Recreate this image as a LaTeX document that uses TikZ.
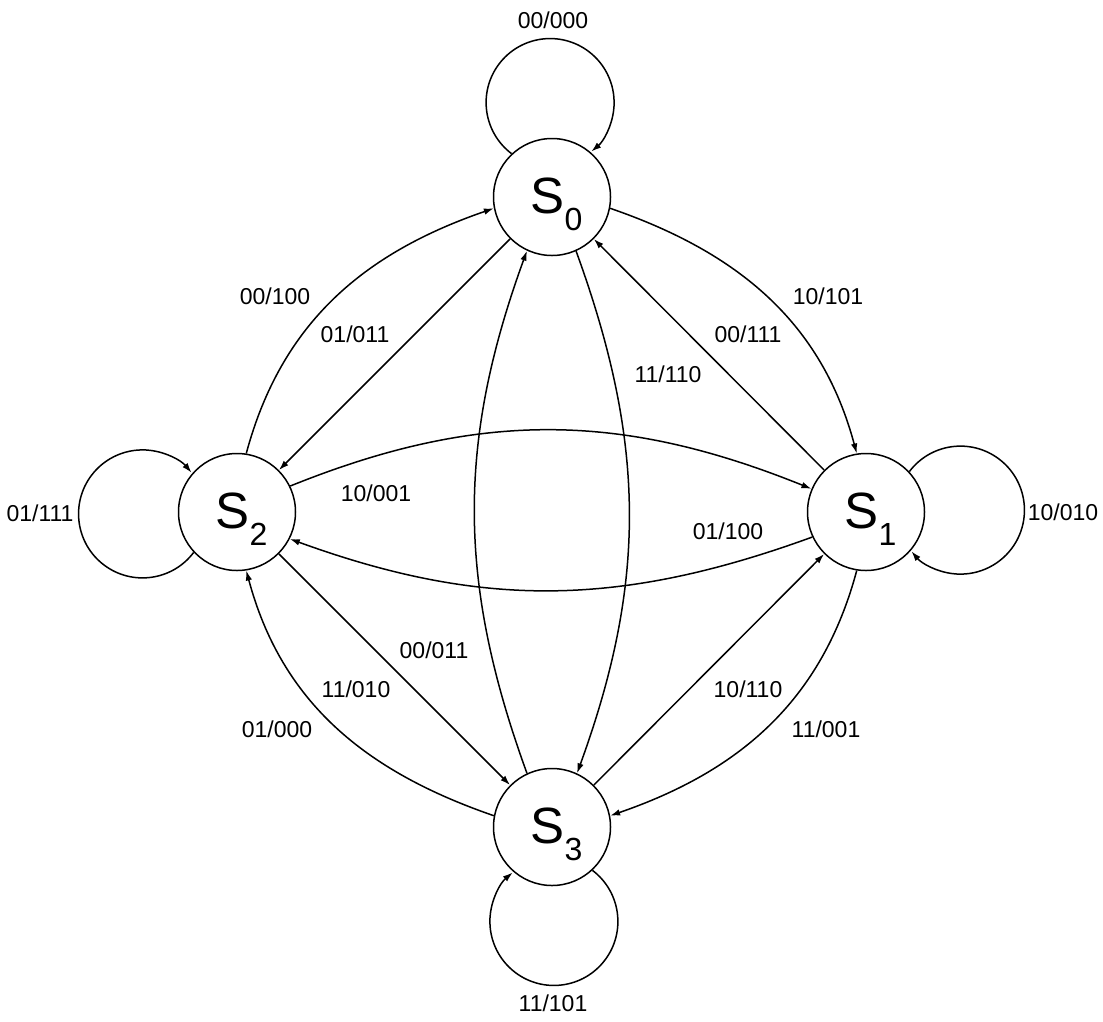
\documentclass[tikz,border=0pt]{standalone}
\usepackage{fontspec}
\setmainfont{Liberation Sans}
\usetikzlibrary{arrows.meta}
\newcommand\stname[1]{S\raisebox{-17pt}[0pt][0pt]{\makebox[9pt][l]{\fontsize{32}{32}\selectfont #1}}}
\begin{document}
\begin{tikzpicture}[x=1pt,y=1pt,
  state/.style={draw, circle, minimum size=117pt, inner sep=0pt, line width=1.5pt,
    font=\fontsize{51}{51}\selectfont, text height=35pt, text depth=3pt},
  edge/.style={line width=1.5pt, -{Latex[length=10pt,width=6.5pt]}},
  lbl/.style={font=\fontsize{23}{23}\selectfont, inner sep=0pt}]
\useasboundingbox (0,0) rectangle (1103,-1021);

\node[state] (s0) at (552,-197) {\stname{0}};
\node[state] (s1) at (866,-512) {\stname{1}};
\node[state] (s2) at (237,-512) {\stname{2}};
\node[state] (s3) at (552,-827) {\stname{3}};

% self loops
\draw[edge] (s0.133) arc[start angle=233, end angle=-50, radius=64pt];
\draw[edge] (s1.43) arc[start angle=143, end angle=-140, radius=64pt];
\draw[edge] (s3.-47) arc[start angle=53, end angle=-230, radius=64pt];
\draw[edge] (s2.223) arc[start angle=323, end angle=40, radius=64pt];

% transitions
\draw[edge] (s2.81) to[out=75,in=199] (s0.191);
\draw[edge] (s0) -- (s2);
\draw[edge] (s0.-11) to[out=-19,in=105] (s1.99);
\draw[edge] (s1) -- (s0);
\draw[edge] (s0.-66) to[out=-70,in=70] (s3.65);
\draw[edge] (s3.115) to[out=110,in=-110] (s0.245);
\draw[edge] (s2.26) to[out=22,in=158] (s1.157);
\draw[edge] (s1.205) to[out=200,in=-20] (s2.-27);
\draw[edge] (s2) -- (s3);
\draw[edge] (s3) -- (s1);
\draw[edge] (s1.-99) to[out=-105,in=19] (s3.11);
\draw[edge] (s3.169) to[out=161,in=-75] (s2.-81);

% labels
\node[lbl] (l00) at (553,-20) {00/000};
\node[lbl] (l11) at (553,-1003) {11/101};
\node[lbl] (l22) at (40,-513) {01/111};
\node[lbl] (l33) at (1063,-512) {10/010};
\node[lbl] (l20) at (275,-296) {00/100};
\node[lbl] (l02) at (355,-334) {01/011};
\node[lbl] (l01) at (828,-296) {10/101};
\node[lbl] (l10) at (748,-334) {00/111};
\node[lbl] (l03) at (668,-374) {11/110};
\node[lbl] (l30) at (434,-650) {00/011};
\node[lbl] (l21) at (376,-493) {10/001};
\node[lbl] (l12) at (728,-531) {01/100};
\node[lbl] (l23) at (356,-689) {11/010};
\node[lbl] (l31) at (748,-689) {10/110};
\node[lbl] (l13) at (826,-729) {11/001};
\node[lbl] (l32) at (277,-729) {01/000};
\end{tikzpicture}
\end{document}
